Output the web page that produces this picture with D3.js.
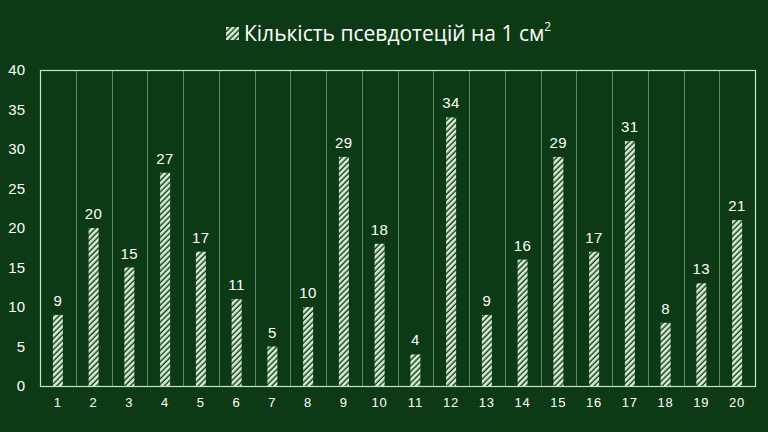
<!DOCTYPE html>
<html>
<head>
<meta charset="utf-8">
<script src="https://cdn.jsdelivr.net/npm/d3@7"></script>
<style>
  body { margin: 0; background: #0c3a15; }
  svg { display: block; font-family: "Liberation Sans", Arial, sans-serif; }
</style>
</head>
<body>
<div id="chart"></div>
<script>
// data
var categories = d3.range(1, 21).map(String);
var values = [9, 20, 15, 27, 17, 11, 5, 10, 29, 18, 4, 34, 9, 16, 29, 17, 31, 8, 13, 21];
var yTicks = [0, 5, 10, 15, 20, 25, 30, 35, 40];
var seriesName = "Кількість псевдотецій на 1 см";

var W = 768, H = 432;
var margin = { top: 70, right: 13, bottom: 46, left: 40 };
var width = W - margin.left - margin.right,
    height = H - margin.top - margin.bottom;

var svg = d3.select("#chart").append("svg")
    .attr("width", W)
    .attr("height", H);

svg.append("rect").attr("width", W).attr("height", H).attr("fill", "#0c3a15");

// hatch pattern
var defs = svg.append("defs");
var pat = defs.append("pattern")
    .attr("id", "hatch")
    .attr("patternUnits", "userSpaceOnUse")
    .attr("width", 4).attr("height", 4)
    .attr("patternTransform", "rotate(45)");
pat.append("rect").attr("width", 4).attr("height", 4).attr("fill", "#0c3a15");
pat.append("rect").attr("width", 2.6).attr("height", 4).attr("fill", "#dcefd9");

var g = svg.append("g").attr("transform", `translate(${margin.left},${margin.top})`);

var x = d3.scaleBand().domain(categories).range([0, width]).paddingInner(0).paddingOuter(0);
var y = d3.scaleLinear().domain([0, 40]).range([height, 0]);

// vertical grid lines at category boundaries
g.append("g").selectAll("line")
    .data(categories.slice(1))
    .enter().append("line")
    .attr("x1", d => Math.round(x(d)) + 0.5)
    .attr("x2", d => Math.round(x(d)) + 0.5)
    .attr("y1", 0).attr("y2", height)
    .attr("stroke", "#5f8a5f")
    .attr("stroke-width", 1);

// plot border
g.append("rect")
    .attr("x", 0.5).attr("y", 0.5)
    .attr("width", width).attr("height", height)
    .attr("fill", "none")
    .attr("stroke", "#c9e3c6")
    .attr("stroke-width", 1.2);

// bars
var barW = 10;
g.selectAll(".bar")
    .data(values)
    .enter().append("rect")
    .attr("class", "bar")
    .attr("x", (d, i) => x(categories[i]) + x.bandwidth() / 2 - barW / 2)
    .attr("y", d => y(d))
    .attr("width", barW)
    .attr("height", d => height - y(d))
    .attr("fill", "url(#hatch)");

// value labels
g.selectAll(".val")
    .data(values)
    .enter().append("text")
    .attr("class", "val")
    .attr("x", (d, i) => x(categories[i]) + x.bandwidth() / 2)
    .attr("y", d => y(d) - 9)
    .attr("text-anchor", "middle")
    .attr("fill", "#ffffff")
    .attr("font-size", 15)
    .attr("letter-spacing", 0.5)
    .text(d => d);

// y axis
var yAxis = d3.axisLeft(y).tickValues(yTicks).tickSize(0).tickPadding(15);
g.append("g").call(yAxis)
    .call(s => s.select(".domain").remove())
    .selectAll("text")
    .attr("fill", "#ffffff")
    .attr("font-size", 15)
    .attr("font-family", "\"Liberation Sans\", Arial, sans-serif");

// x axis
var xAxis = d3.axisBottom(x).tickSize(0).tickPadding(12);
g.append("g").attr("transform", `translate(0,${height})`).call(xAxis)
    .call(s => s.select(".domain").remove())
    .selectAll("text")
    .attr("fill", "#ffffff")
    .attr("font-size", 13)
    .attr("letter-spacing", 1)
    .attr("font-family", "\"Liberation Sans\", Arial, sans-serif");

// legend / title
var leg = svg.append("g").attr("transform", "translate(226,27)");
leg.append("rect").attr("width", 13).attr("height", 13).attr("fill", "url(#hatch)");
var t = leg.append("text")
    .attr("x", 18).attr("y", 14)
    .attr("fill", "#ffffff")
    .attr("font-size", 21)
    .attr("font-family", "\"Open Sans\", sans-serif")
    .text(seriesName);
t.append("tspan").attr("font-size", 12).attr("dy", -10).text("2");
</script>
</body>
</html>
